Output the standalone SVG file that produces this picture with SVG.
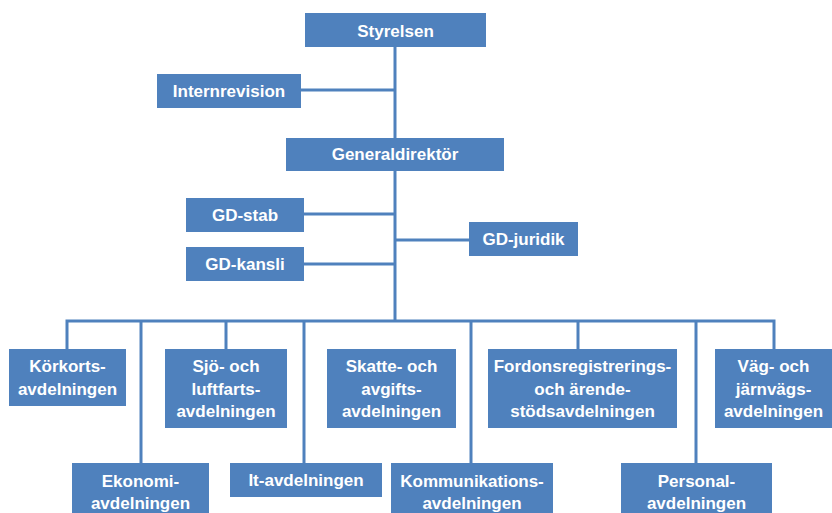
<svg xmlns="http://www.w3.org/2000/svg" width="832" height="513" viewBox="0 0 832 513">
<style>
.box{fill:#4F81BD;}
.t{font-family:"Liberation Sans",Arial,sans-serif;font-weight:bold;font-size:17px;fill:#FFFFFF;text-anchor:middle;}
.c{stroke:#4F81BD;stroke-width:3;fill:none;}
</style>
<rect width="832" height="513" fill="#FFFFFF"/>
<g id="connectors" class="c">
<path d="M395 47V138"/>
<path d="M301 90H395"/>
<path d="M395 171V321"/>
<path d="M304 214H395"/>
<path d="M304 264H395"/>
<path d="M395 240H469"/>
<path d="M67 349V321H774V349"/>
<path d="M141 321V463"/>
<path d="M226 321V349"/>
<path d="M304 321V463"/>
<path d="M471 321V463"/>
<path d="M578 321V349"/>
<path d="M696 321V463"/>
</g>
<g id="styrelsen"><rect class="box" x="305" y="13" width="181" height="34"/><text class="t" x="395.5" y="36.5">Styrelsen</text></g>
<g id="internrevision"><rect class="box" x="157" y="74" width="144" height="34"/><text class="t" x="229" y="97">Internrevision</text></g>
<g id="generaldirektor"><rect class="box" x="286" y="138" width="218" height="33"/><text class="t" x="395" y="160">Generaldirektör</text></g>
<g id="gd-stab"><rect class="box" x="186" y="198" width="118" height="34"/><text class="t" x="245" y="221">GD-stab</text></g>
<g id="gd-kansli"><rect class="box" x="186" y="247" width="118" height="34"/><text class="t" x="245" y="270">GD-kansli</text></g>
<g id="gd-juridik"><rect class="box" x="469" y="222" width="109" height="34"/><text class="t" x="523.5" y="245">GD-juridik</text></g>
<g id="korkort"><rect class="box" x="9" y="349" width="117" height="57"/><text class="t" x="67.5" y="372">Körkorts-</text><text class="t" x="67.5" y="395">avdelningen</text></g>
<g id="sjo"><rect class="box" x="165" y="349" width="122" height="79"/><text class="t" x="226" y="372">Sjö- och</text><text class="t" x="226" y="395">luftfarts-</text><text class="t" x="226" y="417">avdelningen</text></g>
<g id="skatte"><rect class="box" x="327" y="349" width="129" height="79"/><text class="t" x="391.5" y="372">Skatte- och</text><text class="t" x="391.5" y="395">avgifts-</text><text class="t" x="391.5" y="417">avdelningen</text></g>
<g id="fordon"><rect class="box" x="488" y="349" width="189" height="79"/><text class="t" x="582.5" y="372">Fordonsregistrerings-</text><text class="t" x="582.5" y="395">och ärende-</text><text class="t" x="582.5" y="417">stödsavdelningen</text></g>
<g id="vag"><rect class="box" x="715" y="349" width="117" height="79"/><text class="t" x="773.5" y="372">Väg- och</text><text class="t" x="773.5" y="395">järnvägs-</text><text class="t" x="773.5" y="417">avdelningen</text></g>
<g id="ekonomi"><rect class="box" x="72" y="463" width="137" height="60"/><text class="t" x="140.5" y="487">Ekonomi-</text><text class="t" x="140.5" y="509">avdelningen</text></g>
<g id="it"><rect class="box" x="230" y="463" width="152" height="34"/><text class="t" x="306" y="486">It-avdelningen</text></g>
<g id="kommunikation"><rect class="box" x="391" y="463" width="162" height="60"/><text class="t" x="472" y="487">Kommunikations-</text><text class="t" x="472" y="509">avdelningen</text></g>
<g id="personal"><rect class="box" x="621" y="463" width="151" height="60"/><text class="t" x="696.5" y="487">Personal-</text><text class="t" x="696.5" y="509">avdelningen</text></g>
</svg>
